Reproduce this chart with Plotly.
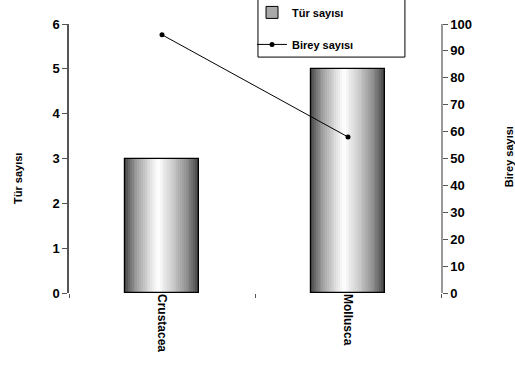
import plotly.graph_objects as go

categories = ["Crustacea", "Mollusca"]
tur_sayisi = [3, 5]
birey_sayisi = [96, 58]

FONT = "Liberation Sans, Arial, sans-serif"
BAR_W = 0.40
N = 40

def shade(t):
    # horizontal cylinder-like gradient: dark edges, light near 45%
    c = 0.45
    if t < c:
        v = (t / c)
    else:
        v = (1 - t) / (1 - c)
    v = max(0.0, min(1.0, v)) ** 0.6
    g = int(40 + v * 215)
    return f"rgb({g},{g},{g})"

fig = go.Figure()
sw = BAR_W / N
for i in range(N):
    t = (i + 0.5) / N
    fig.add_trace(go.Bar(
        x=categories, y=tur_sayisi, width=sw * 1.05, offset=-BAR_W / 2 + i * sw,
        marker=dict(color=shade(t), line=dict(width=0)),
        showlegend=False, hoverinfo="skip", yaxis="y"))
# outline
fig.add_trace(go.Bar(
    x=categories, y=tur_sayisi, width=BAR_W, offset=-BAR_W / 2,
    marker=dict(color="rgba(0,0,0,0)", line=dict(color="black", width=1.2)),
    showlegend=False, yaxis="y"))
# legend entry for bars
fig.add_trace(go.Bar(
    x=[None], y=[None], name="Tür sayısı", legendgroup="a",
    marker=dict(color="#aaaaaa", line=dict(color="black", width=1))))

fig.add_trace(go.Scatter(
    x=categories, y=birey_sayisi, name="Birey sayısı", yaxis="y2", legendgroup="b",
    mode="lines+markers", line=dict(color="black", width=1),
    marker=dict(color="black", size=5, symbol="circle")))

bold13 = dict(family=FONT, size=13, color="black", weight="bold")
bold11 = dict(family=FONT, size=11, color="black", weight="bold")

fig.update_layout(
    width=515, height=385,
    margin=dict(l=69, r=74, t=24, b=92, autoexpand=False),
    paper_bgcolor="white", plot_bgcolor="white",
    barmode="overlay", bargap=0,
    font=dict(family=FONT, size=13, color="black"),
    showlegend=True,
    legend=dict(x=0.492, y=1.097, xanchor="left", yanchor="top",
                borderwidth=0, bgcolor="rgba(0,0,0,0)",
                font=bold11,
                traceorder="grouped", tracegroupgap=13,
                itemwidth=30),
    xaxis=dict(type="category", tickson="boundaries", ticks="outside", ticklen=4,
               tickcolor="#555", showline=False, showgrid=False, tickangle=90,
               tickfont=dict(family=FONT, size=12, color="black", weight="bold"),
               range=[-0.5, 1.5]),
    yaxis=dict(range=[0, 6], dtick=1, showgrid=False, showline=True, linecolor="#555",
               linewidth=1.5, ticks="outside", ticklen=5, tickcolor="#555",
               zeroline=False, tickfont=bold13),
    yaxis2=dict(range=[0, 100], dtick=10, overlaying="y", side="right",
                showgrid=False, showline=True, linecolor="#999", linewidth=1.5,
                ticks="outside", ticklen=5, tickcolor="#555", zeroline=False,
                tickfont=bold13),
    shapes=[dict(type="rect", xref="paper", yref="paper",
                 x0=0.508, x1=0.903, y0=0.877, y1=1.14,
                 line=dict(color="black", width=1), fillcolor="rgba(0,0,0,0)",
                 layer="above")],
    annotations=[
        dict(text="Tür sayısı", xref="paper", yref="paper", x=-0.137, y=0.424,
             textangle=-90, showarrow=False, font=bold11,
             xanchor="center", yanchor="middle"),
        dict(text="Birey sayısı", xref="paper", yref="paper", x=1.183, y=0.505,
             textangle=-90, showarrow=False, font=bold11,
             xanchor="center", yanchor="middle"),
    ],
)

fig.write_html(
    "out.html",
    config={"displayModeBar": False},
    post_script="document.body.style.margin='0';"
                "document.documentElement.style.overflow='hidden';",
)
